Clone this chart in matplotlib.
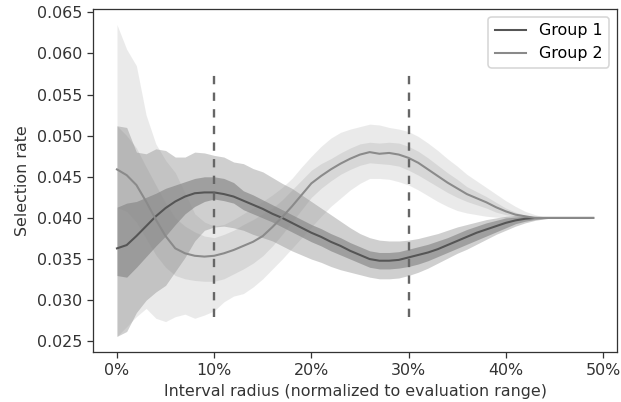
import numpy as np
import matplotlib
matplotlib.use("Agg")
import matplotlib.pyplot as plt
from matplotlib.ticker import PercentFormatter, FormatStrFormatter

# interval radius, as a fraction of the evaluation range
radius = np.arange(50) / 100

# Group 1: mean selection rate and two bands (inner / outer)
g1_mean = [0.0363, 0.0367, 0.0378, 0.0390, 0.0402, 0.0412, 0.0420, 0.0426, 0.0430, 0.0431,
           0.0431, 0.0429, 0.0426, 0.0421, 0.0416, 0.0411, 0.0405, 0.0400, 0.0394, 0.0388,
           0.0382, 0.0377, 0.0371, 0.0366, 0.0360, 0.0355, 0.0350, 0.0348, 0.0348, 0.0349,
           0.0352, 0.0355, 0.0358, 0.0362, 0.0367, 0.0372, 0.0377, 0.0382, 0.0386, 0.0390,
           0.0394, 0.0397, 0.0399, 0.0400, 0.0400, 0.0400, 0.0400, 0.0400, 0.0400, 0.0400]
g1_in_lo = [0.0330, 0.0328, 0.0340, 0.0353, 0.0366, 0.0378, 0.0392, 0.0405, 0.0414, 0.0420,
            0.0423, 0.0421, 0.0418, 0.0410, 0.0405, 0.0400, 0.0395, 0.0389, 0.0383, 0.0377,
            0.0371, 0.0366, 0.0360, 0.0355, 0.0350, 0.0345, 0.0340, 0.0338, 0.0338, 0.0339,
            0.0341, 0.0344, 0.0348, 0.0353, 0.0358, 0.0363, 0.0368, 0.0373, 0.0378, 0.0383,
            0.0388, 0.0393, 0.0396, 0.0398, 0.0399, 0.0400, 0.0400, 0.0400, 0.0400, 0.0400]
g1_in_hi = [0.0413, 0.0418, 0.0420, 0.0425, 0.0430, 0.0436, 0.0440, 0.0444, 0.0448, 0.0450,
            0.0450, 0.0448, 0.0443, 0.0433, 0.0428, 0.0422, 0.0416, 0.0410, 0.0404, 0.0398,
            0.0392, 0.0387, 0.0381, 0.0376, 0.0370, 0.0365, 0.0360, 0.0358, 0.0358, 0.0359,
            0.0362, 0.0365, 0.0368, 0.0372, 0.0376, 0.0381, 0.0386, 0.0390, 0.0394, 0.0397,
            0.0400, 0.0401, 0.0402, 0.0401, 0.0400, 0.0400, 0.0400, 0.0400, 0.0400, 0.0400]
g1_out_lo = [0.0256, 0.0262, 0.0285, 0.0300, 0.0310, 0.0318, 0.0335, 0.0352, 0.0372, 0.0385,
             0.0389, 0.0390, 0.0388, 0.0385, 0.0380, 0.0376, 0.0372, 0.0366, 0.0360, 0.0355,
             0.0350, 0.0346, 0.0341, 0.0337, 0.0334, 0.0331, 0.0328, 0.0326, 0.0326, 0.0327,
             0.0330, 0.0334, 0.0339, 0.0345, 0.0351, 0.0357, 0.0362, 0.0368, 0.0374, 0.0380,
             0.0385, 0.0390, 0.0394, 0.0397, 0.0399, 0.0400, 0.0400, 0.0400, 0.0400, 0.0400]
g1_out_hi = [0.0512, 0.0510, 0.0480, 0.0478, 0.0484, 0.0482, 0.0474, 0.0474, 0.0480, 0.0479,
             0.0476, 0.0474, 0.0468, 0.0466, 0.0460, 0.0456, 0.0449, 0.0442, 0.0436, 0.0428,
             0.0420, 0.0412, 0.0404, 0.0396, 0.0388, 0.0381, 0.0376, 0.0373, 0.0372, 0.0372,
             0.0373, 0.0375, 0.0378, 0.0381, 0.0385, 0.0389, 0.0392, 0.0395, 0.0398, 0.0400,
             0.0402, 0.0403, 0.0403, 0.0402, 0.0401, 0.0400, 0.0400, 0.0400, 0.0400, 0.0400]

# Group 2
g2_mean = [0.0459, 0.0452, 0.0440, 0.0420, 0.0398, 0.0378, 0.0363, 0.0357, 0.0354, 0.0353,
           0.0354, 0.0357, 0.0361, 0.0366, 0.0371, 0.0378, 0.0389, 0.0401, 0.0414, 0.0428,
           0.0442, 0.0451, 0.0459, 0.0466, 0.0472, 0.0477, 0.0480, 0.0478, 0.0479, 0.0477,
           0.0473, 0.0467, 0.0459, 0.0451, 0.0443, 0.0436, 0.0429, 0.0424, 0.0419, 0.0413,
           0.0408, 0.0404, 0.0402, 0.0400, 0.0400, 0.0400, 0.0400, 0.0400, 0.0400, 0.0400]
g2_in_lo = [0.0413, 0.0408, 0.0395, 0.0375, 0.0355, 0.0340, 0.0330, 0.0326, 0.0324, 0.0323,
            0.0323, 0.0326, 0.0332, 0.0338, 0.0345, 0.0354, 0.0366, 0.0380, 0.0395, 0.0410,
            0.0425, 0.0436, 0.0445, 0.0453, 0.0459, 0.0464, 0.0467, 0.0466, 0.0465, 0.0463,
            0.0458, 0.0452, 0.0445, 0.0438, 0.0431, 0.0425, 0.0420, 0.0416, 0.0412, 0.0407,
            0.0404, 0.0402, 0.0400, 0.0400, 0.0400, 0.0400, 0.0400, 0.0400, 0.0400, 0.0400]
g2_in_hi = [0.0512, 0.0500, 0.0485, 0.0462, 0.0440, 0.0418, 0.0400, 0.0390, 0.0383, 0.0378,
            0.0376, 0.0380, 0.0385, 0.0392, 0.0398, 0.0405, 0.0412, 0.0422, 0.0434, 0.0446,
            0.0458, 0.0466, 0.0472, 0.0479, 0.0485, 0.0490, 0.0492, 0.0491, 0.0492, 0.0491,
            0.0487, 0.0481, 0.0473, 0.0464, 0.0455, 0.0447, 0.0438, 0.0432, 0.0426, 0.0419,
            0.0412, 0.0407, 0.0403, 0.0401, 0.0400, 0.0400, 0.0400, 0.0400, 0.0400, 0.0400]
g2_out_lo = [0.0256, 0.0268, 0.0280, 0.0290, 0.0278, 0.0274, 0.0280, 0.0283, 0.0278, 0.0282,
             0.0287, 0.0298, 0.0305, 0.0308, 0.0316, 0.0326, 0.0338, 0.0350, 0.0363, 0.0376,
             0.0389, 0.0402, 0.0414, 0.0424, 0.0434, 0.0442, 0.0448, 0.0448, 0.0447, 0.0444,
             0.0440, 0.0434, 0.0427, 0.0420, 0.0414, 0.0409, 0.0406, 0.0404, 0.0402, 0.0401,
             0.0400, 0.0399, 0.0399, 0.0399, 0.0400, 0.0400, 0.0400, 0.0400, 0.0400, 0.0400]
g2_out_hi = [0.0635, 0.0605, 0.0585, 0.0525, 0.0490, 0.0470, 0.0455, 0.0430, 0.0405, 0.0395,
             0.0390, 0.0392, 0.0398, 0.0405, 0.0412, 0.0420, 0.0428, 0.0437, 0.0448, 0.0462,
             0.0475, 0.0487, 0.0497, 0.0504, 0.0508, 0.0511, 0.0514, 0.0513, 0.0510, 0.0508,
             0.0505, 0.0499, 0.0491, 0.0482, 0.0472, 0.0463, 0.0453, 0.0445, 0.0437, 0.0429,
             0.0421, 0.0414, 0.0408, 0.0404, 0.0401, 0.0400, 0.0400, 0.0400, 0.0400, 0.0400]

marker_radii = [0.1, 0.3]

# the original looks like a larger render scaled down, so bump the dpi
dpi = 114
fig = plt.figure(figsize=(621 / dpi, 402 / dpi), dpi=dpi)
ax = fig.add_axes([0.150, 0.1244, 0.8436, 0.8532])

ax.fill_between(radius, g1_out_lo, g1_out_hi, color='#555555', alpha=0.28, lw=0)
ax.fill_between(radius, g1_in_lo, g1_in_hi, color='#555555', alpha=0.39, lw=0)
ax.fill_between(radius, g2_out_lo, g2_out_hi, color='#888888', alpha=0.17, lw=0)
ax.fill_between(radius, g2_in_lo, g2_in_hi, color='#888888', alpha=0.19, lw=0)
ax.plot(radius, g1_mean, color='#555555', lw=1.3, label='Group 1')
ax.plot(radius, g2_mean, color='#8a8a8a', lw=1.3, label='Group 2')

ax.vlines(marker_radii, 0.028, 0.058, colors='#666666', lw=1.5,
          linestyles=[(0, (3.5, 3.5))])

ax.xaxis.set_major_formatter(PercentFormatter(xmax=1, decimals=0))
ax.yaxis.set_major_formatter(FormatStrFormatter('%.3f'))
ax.set_xticks([0, 0.1, 0.2, 0.3, 0.4, 0.5])
ax.set_yticks(np.arange(0.025, 0.0651, 0.005))
ax.tick_params(labelsize=10, colors='#333333')
for s in ax.spines.values():
    s.set_color('#333333')

ax.set_xlabel('Interval radius (normalized to evaluation range)', fontsize=10, color='#333333')
ax.set_ylabel('Selection rate', fontsize=10, color='#333333')
ax.legend(loc='upper right', fontsize=10)

fig.savefig('out.png', dpi=dpi)
